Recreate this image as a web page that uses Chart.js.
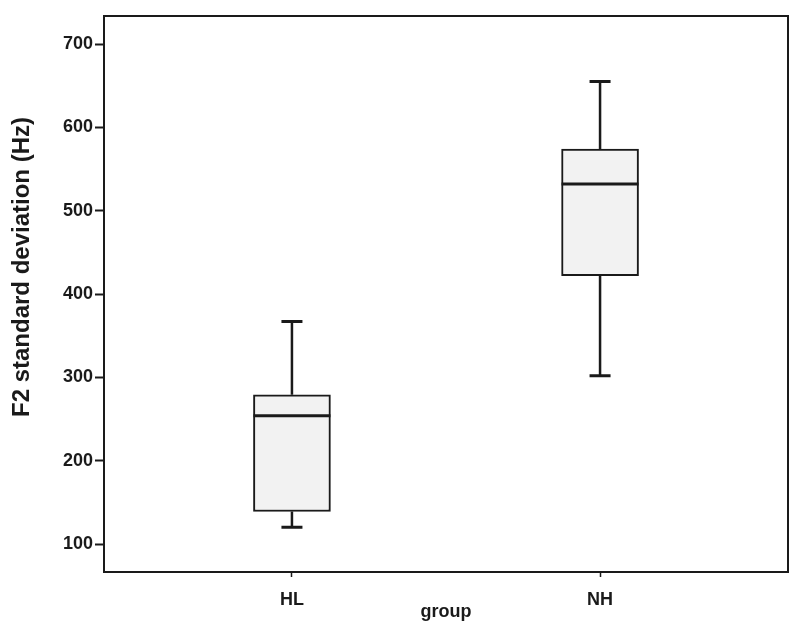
<!DOCTYPE html>
<html>
<head>
<meta charset="utf-8">
<script src="https://cdn.jsdelivr.net/npm/chart.js@4/dist/chart.umd.min.js"></script>
<style>
  html, body { margin: 0; padding: 0; background: #ffffff; }
  #wrap { width: 800px; height: 637px; position: relative; }
</style>
</head>
<body>
<div id="wrap"><canvas id="c"></canvas></div>
<script>
// ---- data ----
const categories   = ['HL', 'NH'];
const whiskerLow   = [120, 302];
const q1           = [139, 422];
const median       = [254, 532];
const q3           = [279, 574];
const whiskerHigh  = [367, 655];
const yTickValues  = [100, 200, 300, 400, 500, 600, 700];
const yTitle = 'F2 standard deviation (Hz)';
const xTitle = 'group';

const positions = categories.map((c, i) => i + 1);

const FONT = "'Liberation Sans', Arial, sans-serif";
const INK = '#1a1a1a';

const boxLines = {
  id: 'boxLines',
  afterDatasetsDraw(chart) {
    const ctx = chart.ctx;
    const xs = chart.scales.x, ys = chart.scales.y;
    const meta = chart.getDatasetMeta(0);
    ctx.save();
    ctx.strokeStyle = INK;
    ctx.lineCap = 'butt';
    categories.forEach((c, i) => {
      const x = xs.getPixelForValue(positions[i]);
      const half = meta.data[i].width / 2;
      const capHalf = 10.5;
      ctx.lineWidth = 3;
      ctx.beginPath();
      ctx.moveTo(x - half, ys.getPixelForValue(median[i]));
      ctx.lineTo(x + half, ys.getPixelForValue(median[i]));
      ctx.stroke();
      ctx.lineWidth = 2.5;
      ctx.beginPath();
      ctx.moveTo(x, ys.getPixelForValue(q3[i]));
      ctx.lineTo(x, ys.getPixelForValue(whiskerHigh[i]));
      ctx.moveTo(x, ys.getPixelForValue(q1[i]));
      ctx.lineTo(x, ys.getPixelForValue(whiskerLow[i]));
      ctx.stroke();
      ctx.lineWidth = 3;
      ctx.beginPath();
      ctx.moveTo(x - capHalf, ys.getPixelForValue(whiskerHigh[i]));
      ctx.lineTo(x + capHalf, ys.getPixelForValue(whiskerHigh[i]));
      ctx.moveTo(x - capHalf, ys.getPixelForValue(whiskerLow[i]));
      ctx.lineTo(x + capHalf, ys.getPixelForValue(whiskerLow[i]));
      ctx.stroke();
    });
    ctx.restore();
  }
};

const frame = {
  id: 'frame',
  afterDraw(chart) {
    const a = chart.chartArea, ctx = chart.ctx;
    ctx.save();
    ctx.strokeStyle = INK;
    ctx.lineWidth = 2;
    ctx.strokeRect(a.left, a.top, a.right - a.left, a.bottom - a.top);
    // y-axis title (placed as in the reference, slightly above the axis centre)
    ctx.translate(22, 267);
    ctx.rotate(-Math.PI / 2);
    ctx.fillStyle = INK;
    ctx.font = "bold 24px " + FONT;
    ctx.textAlign = 'center';
    ctx.textBaseline = 'middle';
    ctx.fillText(yTitle, 0, 0);
    ctx.restore();
  }
};

new Chart(document.getElementById('c'), {
  type: 'bar',
  data: {
    datasets: [{
      label: 'box',
      data: categories.map((c, i) => ({ x: positions[i], y: [q1[i], q3[i]] })),
      backgroundColor: '#f2f2f2',
      borderColor: INK,
      borderWidth: 2,
      borderSkipped: false,
      barThickness: 77
    }]
  },
  options: {
    responsive: true,
    maintainAspectRatio: false,
    animation: false,
    layout: { padding: { top: 16, right: 12, left: 0, bottom: 0 } },
    plugins: { legend: { display: false }, tooltip: { enabled: false } },
    scales: {
      x: {
        type: 'linear',
        offset: false,
        min: 0.39,
        max: 2.61,
        afterBuildTicks: (s) => { s.ticks = positions.map(v => ({ value: v })); },
        afterFit: (s) => { s.height = 65; },
        grid: { offset: false, drawOnChartArea: false, drawTicks: true, tickLength: 5, color: INK, tickWidth: 1.5 },
        border: { display: false },
        ticks: {
          padding: 12,
          color: INK,
          font: { family: FONT, size: 18, weight: 'bold' },
          callback: (v) => categories[v - 1]
        },
        title: {
          display: true, text: xTitle, color: INK, padding: { top: 0, bottom: 14 },
          font: { family: FONT, size: 18, weight: 'bold' }
        }
      },
      y: {
        min: 66.4,
        max: 733.6,
        afterBuildTicks: (s) => { s.ticks = yTickValues.map(v => ({ value: v })); },
        afterFit: (s) => { s.width = 104; },
        grid: { drawOnChartArea: false, drawTicks: true, tickLength: 9, color: INK, tickWidth: 2 },
        border: { display: false },
        ticks: {
          padding: 2,
          color: INK,
          font: { family: FONT, size: 18, weight: 'bold' }
        },
        title: { display: false, text: yTitle }
      }
    }
  },
  plugins: [boxLines, frame]
});
</script>
</body>
</html>
